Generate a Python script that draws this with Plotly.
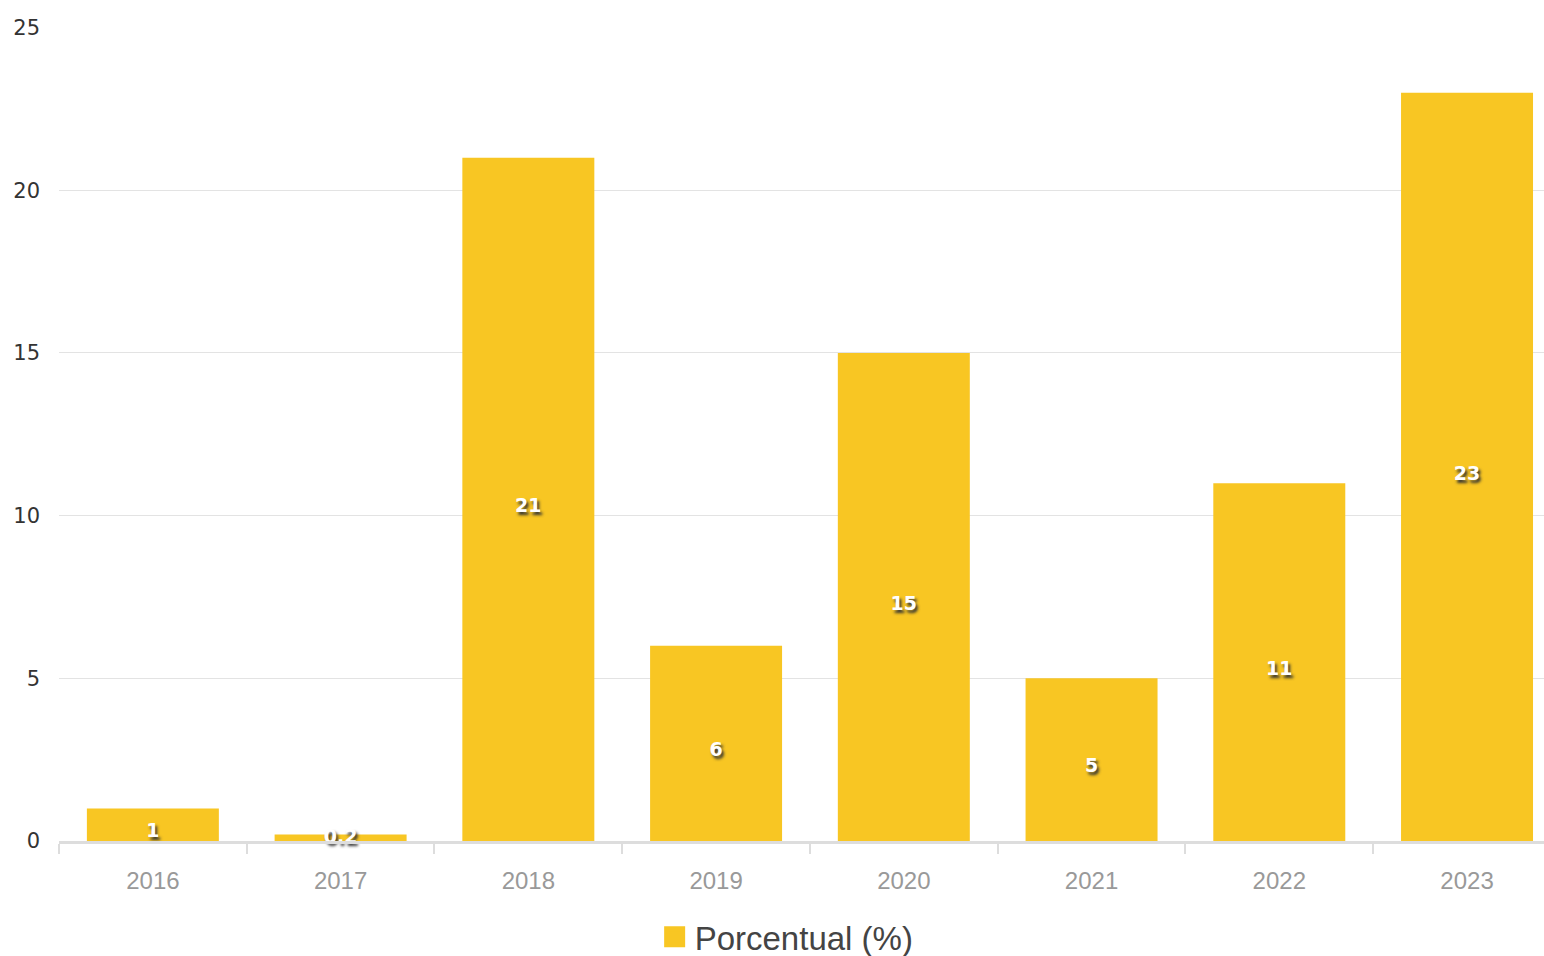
import plotly.graph_objects as go

years = ["2016", "2017", "2018", "2019", "2020", "2021", "2022", "2023"]
porcentual = [1, 0.2, 21, 6, 15, 5, 11, 23]
labels = ["1", "0.2", "21", "6", "15", "5", "11", "23"]

BAR_COLOR = "#F8C623"
Y_MAX = 25.02
NUDGE = 0.246  # labels sit ~8px below bar centre, as in the original

label_font = {"family": "Verdana, DejaVu Sans, sans-serif", "size": 19, "color": "white",
              "weight": "bold", "shadow": "2px 3px 3px #333"}
half = [v / 2 for v in porcentual]

fig = go.Figure()
fig.add_trace(go.Bar(
    x=years,
    y=porcentual,
    name="Porcentual (%)",
    marker_color=BAR_COLOR,
    marker_line_width=0,
    showlegend=False,
))
# legend entry only: a bigger square swatch than the bar one
fig.add_trace(go.Scatter(
    x=[None],
    y=[None],
    mode="markers",
    name="Porcentual (%)",
    marker={"symbol": "square", "size": 16, "color": BAR_COLOR,
            "line": {"color": BAR_COLOR, "width": 5}},
))
# value labels at half height, on a twin axis nudged down
fig.add_trace(go.Scatter(
    x=years,
    y=[h if h > NUDGE else None for h in half],
    yaxis="y2",
    text=labels,
    mode="text",
    textposition="middle center",
    textfont=label_font,
    showlegend=False,
    hoverinfo="skip",
    cliponaxis=False,
))
# tiny bars: label stays on the main axis (would fall outside the nudged one)
fig.add_trace(go.Scatter(
    x=years,
    y=[h if h <= NUDGE else None for h in half],
    text=labels,
    mode="text",
    textposition="middle center",
    textfont=label_font,
    showlegend=False,
    hoverinfo="skip",
    cliponaxis=False,
))

fig.update_layout(
    width=1544,
    height=956,
    plot_bgcolor="white",
    paper_bgcolor="white",
    bargap=0.297,
    margin={"l": 59, "r": 0, "t": 27, "b": 115},
    font={"family": "Liberation Sans, Arial, sans-serif"},
    xaxis={
        "type": "category",
        "range": [-0.5, 7.41],
        "showline": True,
        "linecolor": "#DDDDDD",
        "linewidth": 3,
        "ticks": "outside",
        "tickson": "boundaries",
        "ticklen": 10,
        "tickwidth": 2,
        "tickcolor": "#DDDDDD",
        "ticklabelstandoff": 16,
        "tickfont": {"size": 24, "color": "#999999"},
        "showgrid": False,
        "zeroline": False,
    },
    yaxis={
        "range": [0, Y_MAX],
        "dtick": 5,
        "showgrid": True,
        "gridcolor": "#E3E3E3",
        "gridwidth": 1,
        "zeroline": False,
        "showline": False,
        "ticks": "",
        "ticklabelstandoff": 18,
        "tickfont": {"family": "Verdana, DejaVu Sans, sans-serif", "size": 21, "color": "#333333"},
    },
    yaxis2={
        "overlaying": "y",
        "range": [NUDGE, Y_MAX + NUDGE],
        "visible": False,
    },
    legend={
        "orientation": "h",
        "x": 0.49,
        "xanchor": "center",
        "yref": "container",
        "y": 0.02,
        "yanchor": "middle",
        "font": {"size": 33, "color": "#444444"},
        "itemsizing": "trace",
        "itemwidth": 30,
    },
)

fig.write_html("out.html", config={"displayModeBar": False},
               post_script="document.body.style.margin = '0';")
